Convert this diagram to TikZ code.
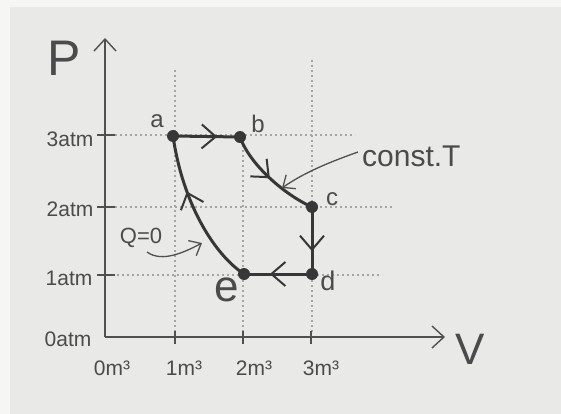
\documentclass[tikz,border=0pt]{standalone}
\usepackage{fontspec}
\setmainfont{Liberation Sans}
\usetikzlibrary{arrows.meta,decorations.markings}
\definecolor{bgc}{RGB}{233,233,231}
\definecolor{bgl}{RGB}{246,246,244}
\definecolor{ink}{RGB}{55,55,55}
\definecolor{axc}{RGB}{80,80,80}
\definecolor{gridc}{RGB}{165,165,165}
\definecolor{txt}{RGB}{75,75,75}
\tikzset{
  x=1pt, y=-1pt,
  barb/.tip={Straight Barb[length=12pt,width=22pt,line width=1.4pt]},
  smallbarb/.tip={Straight Barb[length=10pt,width=17pt,line width=1.3pt]},
  axis/.style={draw=axc, line width=1.5pt},
  gridl/.style={draw=gridc, line width=1.3pt, dash pattern=on 2pt off 3pt},
  tick/.style={draw=axc, line width=1.5pt},
  proc/.style={draw=ink, line width=3pt},
  dot/.style={circle, fill=ink, inner sep=0pt, minimum size=12pt},
  midarrow/.style={postaction={decorate, decoration={markings,
      mark=at position #1 with {\arrow{Straight Barb[length=14pt,width=24pt,line width=2pt]}}}}},
  lbl/.style={text=txt, inner sep=0pt, font=\fontsize{21}{23}\selectfont},
  pt/.style={text=txt, inner sep=0pt, font=\fontsize{24}{26}\selectfont},
  anno/.style={draw=axc, line width=1.3pt},
}
\begin{document}
\begin{tikzpicture}
\useasboundingbox (0,0) rectangle (561,414);
\fill[bgl] (0,0) rectangle (561,414);
\fill[bgc] (10,7) rectangle (561,414);

% coordinates of axes
\coordinate (O) at (105,337);
\coordinate (ytop) at (105,38);
\coordinate (xend) at (445,337);

% grid lines
\draw[gridl] (110,135) -- (355,135);
\draw[gridl] (110,207) -- (393,207);
\draw[gridl] (112,275) -- (382,275);
\draw[gridl] (175,70) -- (175,334);
\draw[gridl] (243,140) -- (243,334);
\draw[gridl] (312,60) -- (312,334);

% axes
\draw[axis, -{barb}] (O) -- (ytop);
\draw[axis, -{barb}] (O) -- (xend);

% ticks
\draw[tick] (97,135) -- (115,135);
\draw[tick] (97,207) -- (115,207);
\draw[tick] (97,275) -- (115,275);
\draw[tick] (175,331) -- (175,344);
\draw[tick] (243,331) -- (243,344);
\draw[tick] (311,331) -- (311,344);

% axis labels
\node[text=txt, inner sep=0pt, font=\fontsize{50}{52}\selectfont] (P) at (64,58) {P};
\node[text=txt, inner sep=0pt, font=\fontsize{44}{46}\selectfont] (V) at (470,349) {V};

\node[lbl] (l3) at (70,139) {3atm};
\node[lbl] (l2) at (70,209) {2atm};
\node[lbl] (l1) at (69,278) {1atm};
\node[lbl] (l0) at (68,339) {0atm};

\node[lbl] (v0) at (112,368) {0m³};
\node[lbl] (v1) at (184,368) {1m³};
\node[lbl] (v2) at (254,368) {2m³};
\node[lbl] (v3) at (321,368) {3m³};

% state points
\node[dot] (a) at (173,136) {};
\node[dot] (b) at (240,137) {};
\node[dot] (c) at (312,207) {};
\node[dot] (d) at (312,274) {};
\node[dot] (e) at (244,274) {};

% process
\draw[proc, midarrow=0.66] (a.center) -- (b.center);
\draw[proc, midarrow=0.5] (b.center) .. controls (250,165) and (285,195) .. (c.center);
\draw[proc, midarrow=0.66] (c.center) -- (d.center);
\draw[proc, midarrow=0.62] (d.center) -- (e.center);
\draw[proc, midarrow=0.64] (e.center) .. controls (215,255) and (183,205) .. (a.center);

% point labels
\node[pt] (la) at (157,121) {a};
\node[pt] (lb) at (258,124) {b};
\node[pt] (lc) at (332,199) {c};
\node[pt, font=\fontsize{27}{29}\selectfont] (ld) at (328,281) {d};
\node[text=txt, inner sep=0pt, font=\fontsize{44}{46}\selectfont] (le) at (227,290) {e};

% annotations
\node[text=txt, inner sep=0pt, font=\fontsize{30}{32}\selectfont, anchor=west] (cT) at (362,156) {const.T};
\coordinate (cTtip) at (282,188);
\draw[anno, -{smallbarb}] (cT.west) ++(-4,-4) .. controls (330,162) and (305,172) .. (cTtip);

\node[lbl, font=\fontsize{22}{24}\selectfont] (Q) at (141,238) {Q=0};
\coordinate (Qtip) at (202,243);
\draw[anno, -{smallbarb}] (147,252) .. controls (162,263) and (185,252) .. (Qtip);
\end{tikzpicture}
\end{document}
